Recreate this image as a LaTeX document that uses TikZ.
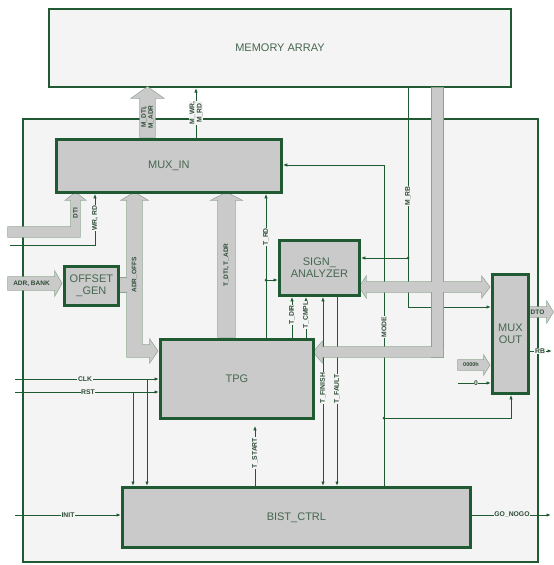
\documentclass[tikz,border=0pt]{standalone}
\usepackage{fontspec}
\setmainfont{Liberation Sans}
\usetikzlibrary{arrows.meta,calc}
\definecolor{dg}{HTML}{1F5A33}
\definecolor{bgc}{HTML}{F4F4F4}
\definecolor{boxg}{HTML}{CACACA}
\definecolor{busedge}{HTML}{8AA38D}
\definecolor{txt}{HTML}{466650}
\definecolor{lbl}{HTML}{2E4D37}
\pgfdeclarelayer{back}
\pgfdeclarelayer{sigs}
\pgfdeclarelayer{buses}
\pgfsetlayers{back,sigs,buses,main}
\begin{document}
\begin{tikzpicture}[x=1pt,y=-1pt,
  sig/.style={draw=dg,line width=0.9pt},
  arr/.style={-{Latex[length=4.5pt,width=3.4pt]}},
  arrboth/.style={{Latex[length=4.5pt,width=3.4pt]}-{Latex[length=4.5pt,width=3.4pt]}},
  blk/.style={draw=dg,fill=boxg,line width=2.8pt,inner sep=0pt,anchor=north west,text=txt,font=\fontsize{11}{12.5}\selectfont,align=center},
  lab/.style={font=\fontsize{6.8}{7.3}\selectfont\bfseries,text=lbl,fill=bgc,inner sep=0.6pt},
  vlab/.style={lab,rotate=90},
  blab/.style={font=\fontsize{6.5}{7}\selectfont\bfseries,text=lbl,inner sep=0.5pt},
  bedge/.style={draw=busedge,line width=1.3pt,line join=miter},
  bfill/.style={fill=boxg},
  jdot/.style={fill=dg,circle,inner sep=0pt,minimum size=3pt}
]
\useasboundingbox (0,0) rectangle (554,565);

\begin{pgfonlayer}{back}
\fill[white] (0,0) rectangle (554,565);
\node[blk,fill=bgc,line width=2.4pt,minimum width=515pt,minimum height=443pt] (outer) at (22,118) {};
\node[blk,fill=bgc,line width=2pt,minimum width=462pt,minimum height=78pt] (mem) at (48,8) {MEMORY ARRAY};
\end{pgfonlayer}

% blocks
\node[blk,minimum width=225pt,minimum height=53pt] (muxin) at (55,138) {MUX\_IN};
\node[blk,minimum width=80pt,minimum height=55pt] (sa) at (278,239) {SIGN\_\\ANALYZER};
\node[blk,minimum width=54pt,minimum height=39pt] (offs) at (63,265) {OFFSET\\\_GEN};
\node[blk,minimum width=153pt,minimum height=79pt] (tpg) at (159,338) {TPG};
\node[blk,minimum width=36pt,minimum height=119pt] (muxout) at (491,273) {MUX\\OUT};
\node[blk,minimum width=348pt,minimum height=60pt] (bist) at (121,486) {BIST\_CTRL};

% free ends
\coordinate (clkin) at (15,379);
\coordinate (rstin) at (15,392);
\coordinate (initin) at (15,515);
\coordinate (goout) at (551,515);
\coordinate (wrin) at (10,245);
\coordinate (zin) at (458,383);
\coordinate (rbout) at (552,351);

\begin{pgfonlayer}{sigs}
\draw[sig,arr] (muxin.north -| 196,0) -- (mem.south -| 196,0);
\draw[sig,arr] (mem.south -| 408,0) |- (muxout.west |- 0,307);
\draw[sig,arr] (408,258) -- (sa.east |- 0,258);
\draw[sig,arr] (bist.north -| 384,0) |- (muxin.east |- 0,165);
\draw[sig,arr] (384,418) -| (muxout.south -| 511,0);
\draw[sig,arr] (tpg.north -| 266,0) -- (muxin.south -| 266,0);
\draw[sig,arr] (266,280) -- (sa.west |- 0,280);
\draw[sig,arr] (tpg.north -| 292,0) -- (sa.south -| 292,0);
\draw[sig,arr] (tpg.north -| 306,0) -- (sa.south -| 306,0);
\draw[sig,arrboth] (sa.south -| 323,0) -- (bist.north -| 323,0);
\draw[sig,arr] (sa.south -| 337,0) -- (bist.north -| 337,0);
\draw[sig,arr,shorten >=6pt] (bist.north -| 255,0) -- (tpg.south -| 255,0);
\draw[sig,arr] (clkin) -- (tpg.west |- clkin);
\draw[sig,arr] (147,379) -- (bist.north -| 147,0);
\draw[sig,arr] (rstin) -- (tpg.west |- rstin);
\draw[sig,arr] (133,392) -- (bist.north -| 133,0);
\draw[sig,arr] (initin) -- (bist.west |- initin);
\draw[sig,arr] (bist.east |- goout) -- (goout);
\draw[sig,arr] (wrin) -| (muxin.south -| 95,0);
\draw[sig,arr] (zin) -- (muxout.west |- zin);
\draw[sig,arr] (muxout.east |- rbout) -- (rbout);
\end{pgfonlayer}

% buses
\def\busA{(140,137) -- (140,98) -- (132,98) -- (147.5,87) -- (163,98) -- (155,98) -- (155,137) -- cycle}
\def\busB{(8,227) -- (71,227) -- (71,200) -- (66,200) -- (75.5,192.5) -- (85,200) -- (80,200) -- (80,237) -- (8,237) -- cycle}
\def\busC{(134.5,192.5) -- (147,200) -- (142,200) -- (142,345) -- (150,345) -- (150,340) -- (157.6,351) -- (150,362) -- (150,357) -- (127,357) -- (127,200) -- (122,200) -- cycle}
\def\busCs{(118.4,278) -- (127.5,278) -- (127.5,292) -- (118.4,292) -- cycle}
\def\busD{(218,337) -- (218,200) -- (212,200) -- (226.5,192.5) -- (241,200) -- (235,200) -- (235,337) -- cycle}
\def\busE{(8,277) -- (55,277) -- (55,272) -- (61.6,283.5) -- (55,295) -- (55,290) -- (8,290) -- cycle}
\def\busF{(432,88) -- (443,88) -- (443,357) -- (432,357) -- cycle}
\def\busG{(443,347) -- (322,347) -- (322,342) -- (313.4,352) -- (322,362) -- (322,357) -- (443,357) -- cycle}
\def\busH{(366,282) -- (482,282) -- (482,277) -- (489.6,287) -- (482,297) -- (482,292) -- (366,292) -- (366,297) -- (359.4,287) -- (366,277) -- cycle}
\def\busI{(528.4,307) -- (547,307) -- (547,302) -- (553,312) -- (547,322) -- (547,317) -- (528.4,317) -- cycle}
\def\busJ{(458,360) -- (484,360) -- (484,356) -- (489.6,365) -- (484,374) -- (484,370) -- (458,370) -- cycle}
\begin{pgfonlayer}{buses}
\draw[bedge] \busA; \draw[bedge] \busB; \draw[bedge] \busC; \draw[bedge] \busCs;
\draw[bedge] \busD; \draw[bedge] \busE; \draw[bedge] \busF; \draw[bedge] \busG;
\draw[bedge] \busH; \draw[bedge] \busI; \draw[bedge] \busJ;
\fill[bfill] \busA; \fill[bfill] \busB; \fill[bfill] \busC; \fill[bfill] \busCs;
\fill[bfill] \busD; \fill[bfill] \busE; \fill[bfill] \busF; \fill[bfill] \busG;
\fill[bfill] \busH; \fill[bfill] \busI; \fill[bfill] \busJ;
\end{pgfonlayer}

% junctions
\node[jdot] (j1) at (408,258) {};
\node[jdot] (j2) at (384,418) {};
\node[jdot] (j3) at (266,280) {};

% signal labels
\node[vlab,align=center] (lmwr) at (196,113) {M\_WR,\\M\_RD};
\node[vlab] (lmrb) at (408,196) {M\_RB};
\node[vlab] (lmode) at (384,327) {MODE};
\node[vlab] (ltrd) at (266,237) {T\_RD};
\node[vlab] (ltdir) at (292,315) {T\_DIR};
\node[vlab] (ltcmpl) at (306,315) {T\_CMPL};
\node[vlab] (ltfin) at (323,388) {T\_FINISH};
\node[vlab] (ltfault) at (337,389) {T\_FAULT};
\node[vlab] (ltstart) at (255,453) {T\_START};
\node[lab] (lclk) at (85,379) {CLK};
\node[lab] (lrst) at (88,392) {RST};
\node[lab] (linit) at (68,515) {INIT};
\node[lab] (lgo) at (512,515) {GO\_NOGO};
\node[vlab] (lwr) at (95,218) {WR, RD};
\node[lab] (lzero) at (476,383) {0};
\node[lab] (lrb) at (540,351) {RB};

% bus labels
\node[blab,rotate=90,align=center] (lmdti) at (147.5,117) {M\_DTI,\\M\_ADR};
\node[blab,rotate=90] (ldti) at (75.5,213) {DTI};
\node[blab,rotate=90] (ladro) at (134.5,275) {ADR\_OFFS};
\node[blab,rotate=90] (ltdti) at (226.5,265) {T\_DTI, T\_ADR};
\node[blab] (ladr) at (31.5,283.5) {ADR, BANK};
\node[blab] (ldto) at (537.5,312) {DTO};
\node[blab,font=\fontsize{5.5}{6}\selectfont\bfseries] (l0000) at (471,365) {0000h};
\end{tikzpicture}
\end{document}
